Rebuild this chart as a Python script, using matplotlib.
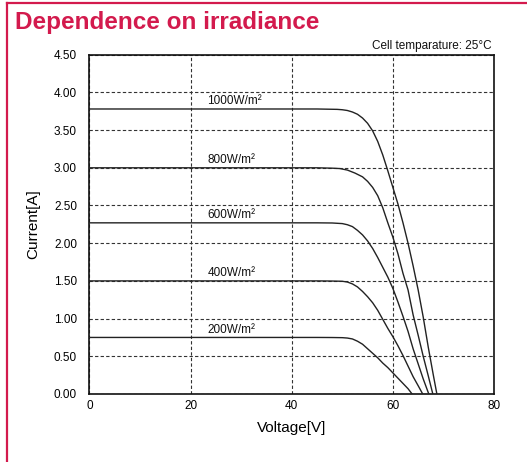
import matplotlib
matplotlib.use("Agg")
import matplotlib.pyplot as plt
from matplotlib.lines import Line2D

plt.rcParams['font.family'] = ['Liberation Sans', 'DejaVu Sans']

RED = '#d31a4d'
NARROW = ['Liberation Sans Narrow', 'Liberation Sans', 'DejaVu Sans']

# I-V curves (voltage [V], current [A])
v_1000 = [0, 45, 49, 50, 51, 52, 53, 54, 55, 56, 57, 58, 59, 60, 61, 62,
          63, 64, 65, 66, 67, 68, 68.7]
i_1000 = [3.78, 3.78, 3.775, 3.77, 3.76, 3.74, 3.71, 3.66, 3.59, 3.49, 3.35,
          3.17, 2.96, 2.74, 2.52, 2.27, 2.00, 1.70, 1.38, 1.02, 0.62, 0.25, 0.00]

v_800 = [0, 45, 48, 49.5, 51, 52.5, 54, 55, 56, 57, 58, 59, 60, 61, 62, 63,
         64, 65, 66, 67, 67.9]
i_800 = [3.00, 3.00, 2.995, 2.99, 2.97, 2.93, 2.88, 2.82, 2.74, 2.63, 2.47,
         2.27, 2.08, 1.86, 1.60, 1.38, 1.05, 0.78, 0.50, 0.24, 0.00]

v_600 = [0, 45, 48, 50, 51, 52, 53, 54, 55, 56, 57, 58, 59, 60, 61, 62, 63,
         64, 65, 66, 67.1]
i_600 = [2.27, 2.27, 2.268, 2.26, 2.245, 2.22, 2.17, 2.11, 2.03, 1.93, 1.81,
         1.68, 1.55, 1.40, 1.22, 1.03, 0.83, 0.60, 0.40, 0.20, 0.00]

v_400 = [0, 45, 48, 50, 51, 52, 53, 54, 55, 56, 57, 58, 59, 60, 61, 62, 63,
         64, 65, 65.9]
i_400 = [1.50, 1.50, 1.498, 1.495, 1.485, 1.46, 1.42, 1.36, 1.29, 1.21, 1.11,
         0.99, 0.87, 0.76, 0.64, 0.51, 0.37, 0.23, 0.11, 0.00]

v_200 = [0, 45, 48, 50, 51, 52, 53, 54, 55, 56, 57, 58, 59, 60, 61, 62, 63,
         63.8]
i_200 = [0.75, 0.75, 0.749, 0.747, 0.742, 0.73, 0.70, 0.66, 0.60, 0.54, 0.48,
         0.41, 0.35, 0.28, 0.21, 0.14, 0.07, 0.00]

curves = [(v_1000, i_1000, '1000W/m²'),
          (v_800, i_800, '800W/m²'),
          (v_600, i_600, '600W/m²'),
          (v_400, i_400, '400W/m²'),
          (v_200, i_200, '200W/m²')]

x_ticks = [0, 20, 40, 60, 80]
y_ticks = [0.0, 0.5, 1.0, 1.5, 2.0, 2.5, 3.0, 3.5, 4.0, 4.5]
label_v = 23.3

fig = plt.figure(figsize=(5.27, 4.62), dpi=100)
ax = fig.add_axes([0.1698, 0.1472, 0.7676, 0.7344])

for v, i, name in curves:
    ax.plot(v, i, color='#222222', linewidth=1.0, zorder=3,
            solid_joinstyle='round')
    ax.text(label_v, i[0] + 0.02, name, fontsize=8.5, family=NARROW,
            ha='left', va='bottom', color='#111111')

ax.set_xlim(0, 80)
ax.set_ylim(0, 4.5)
ax.set_xticks(x_ticks)
ax.set_yticks(y_ticks)
ax.set_yticklabels([f'{t:.2f}' for t in y_ticks])
ax.tick_params(length=0, labelsize=8.5)
ax.tick_params(axis='y', pad=9)
ax.tick_params(axis='x', pad=4)
for lab in ax.get_xticklabels() + ax.get_yticklabels():
    lab.set_family(NARROW)

ax.grid(True, color='#333333', linestyle=(0, (3, 2)), linewidth=0.8)
for s in ax.spines.values():
    s.set_linewidth(1.2)
    s.set_color('#111111')

ax.set_xlabel('Voltage[V]', fontsize=11, labelpad=7)
ax.set_ylabel('Current[A]', fontsize=11, labelpad=10)

# red frame and title
fig.add_artist(Line2D([6.5 / 527, 6.5 / 527], [0, 1 - 3 / 462],
                      transform=fig.transFigure, color=RED, linewidth=1.6))
fig.add_artist(Line2D([6.5 / 527, 1], [1 - 3 / 462, 1 - 3 / 462],
                      transform=fig.transFigure, color=RED, linewidth=1.6))
fig.text(15 / 527, 1 - 22 / 462, 'Dependence on irradiance', color=RED,
         fontsize=17.5, fontweight='bold', ha='left', va='center')
fig.text(492 / 527, 1 - 46 / 462, 'Cell temparature: 25°C', fontsize=8.5,
         ha='right', va='center', color='#111111')

fig.savefig('out.png', dpi=100)
